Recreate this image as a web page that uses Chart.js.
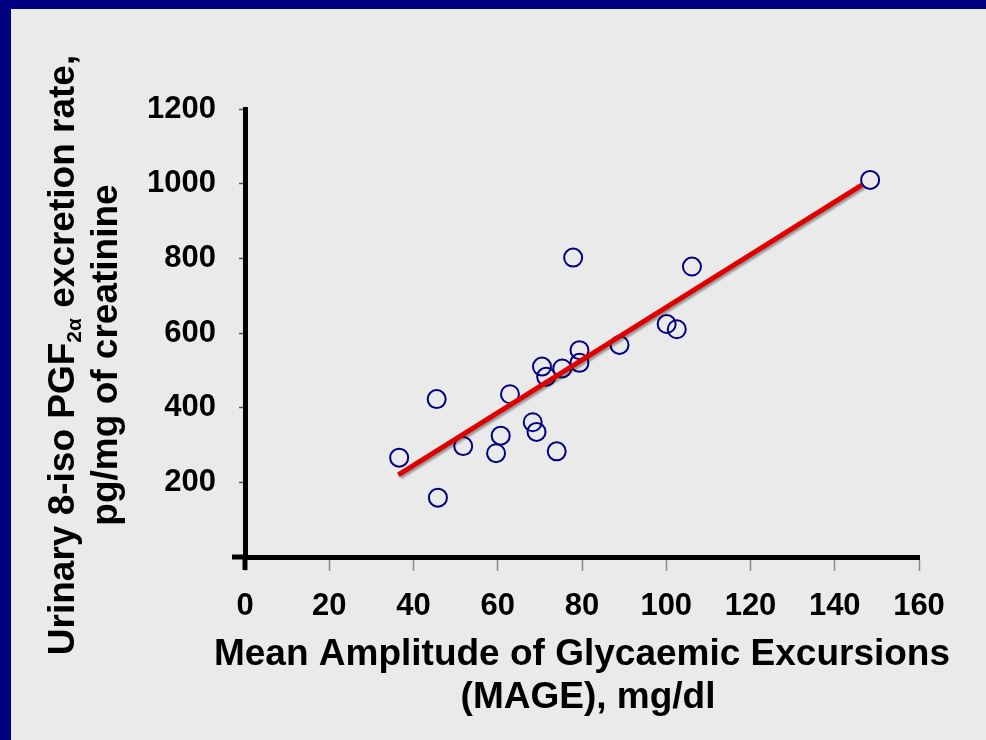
<!DOCTYPE html>
<html>
<head>
<meta charset="utf-8">
<script src="https://cdn.jsdelivr.net/npm/chart.js@4/dist/chart.umd.min.js"></script>
<style>
  html, body { margin: 0; padding: 0; background: #000080; }
  canvas { display: block; }
</style>
</head>
<body>
<canvas id="mageChart" width="986" height="740"></canvas>
<script>
// MAGE (mg/dl) vs urinary 8-iso PGF2α (pg/mg creatinine)
var mageX = [36.6, 45.5, 45.8, 51.8, 59.6, 60.7, 62.9, 68.3, 69.2, 70.5, 71.5,
             74.0, 75.3, 77.9, 79.4, 79.4, 88.9, 100.1, 102.5, 106.1, 148.4];
var isoY  = [266, 423, 159, 297, 278, 325, 436, 361, 335, 510, 483,
             283, 505, 802, 554, 520, 568, 624, 610, 778, 1010];

// regression line end points
var trendX = [36.4, 146.4];
var trendY = [220, 996];

var xTicks = [0, 20, 40, 60, 80, 100, 120, 140, 160];
var yTicks = [0, 200, 400, 600, 800, 1000, 1200];

var yTitleLine1 = ['Urinary 8-iso PGF', '2\u03b1', ' excretion rate,'];
var yTitleLine2 = 'pg/mg of creatinine';
var xTitleLines = ['Mean Amplitude of Glycaemic Excursions', '(MAGE), mg/dl'];

var FONT = '"Liberation Sans", Arial, sans-serif';

// --- background frame, axis titles and the axis cross ---
var framePlugin = {
  id: 'frame',
  beforeDraw: function (chart) {
    var c = chart.ctx;
    c.save();
    c.fillStyle = '#000080';
    c.fillRect(0, 0, chart.width, chart.height);
    c.fillStyle = '#eaeaea';
    c.fillRect(11, 9, chart.width - 11, chart.height - 9);
    c.restore();
  },
  afterDraw: function (chart) {
    var c = chart.ctx;
    var area = chart.chartArea;
    c.save();

    // axis cross at the origin
    c.strokeStyle = '#000';
    c.lineWidth = 5;
    c.beginPath();
    c.moveTo(area.left - 13, area.bottom);
    c.lineTo(area.left, area.bottom);
    c.moveTo(area.left, area.bottom);
    c.lineTo(area.left, area.bottom + 13);
    c.stroke();

    var big = 'bold 37px ' + FONT;
    var small = 'bold 21px ' + FONT;
    c.fillStyle = '#000';
    c.textBaseline = 'alphabetic';

    // x title, two centred lines
    c.font = big;
    c.textAlign = 'center';
    var cx = (area.left + area.right) / 2;
    c.fillText(xTitleLines[0], cx, 665);
    c.fillText(xTitleLines[1], cx + 6, 708);
    c.textAlign = 'left';

    // rotated y title, two lines, centred on the panel
    var midY = 355;
    c.rotate(-Math.PI / 2);
    c.font = big;
    var w0 = c.measureText(yTitleLine1[0]).width;
    var w2 = c.measureText(yTitleLine1[2]).width;
    c.font = small;
    var w1 = c.measureText(yTitleLine1[1]).width;
    var x = -(midY + (w0 + w1 + w2) / 2);
    c.font = big;
    c.fillText(yTitleLine1[0], x, 74);
    c.font = small;
    c.fillText(yTitleLine1[1], x + w0, 81);
    c.font = big;
    c.fillText(yTitleLine1[2], x + w0 + w1, 74);

    var wl2 = c.measureText(yTitleLine2).width;
    c.fillText(yTitleLine2, -(midY + wl2 / 2), 117);
    c.restore();
  }
};

// soft shadow under the red regression line
var lineShadow = {
  id: 'lineShadow',
  beforeDatasetDraw: function (chart, args) {
    if (args.index !== 1) return;
    var c = chart.ctx;
    c.save();
    c.shadowColor = 'rgba(0, 0, 0, 0.35)';
    c.shadowOffsetX = 2;
    c.shadowOffsetY = 2;
    c.shadowBlur = 2;
  },
  afterDatasetDraw: function (chart, args) {
    if (args.index !== 1) return;
    chart.ctx.restore();
  }
};

var points = mageX.map(function (v, i) { return { x: v, y: isoY[i] }; });
var trend = trendX.map(function (v, i) { return { x: v, y: trendY[i] }; });

new Chart(document.getElementById('mageChart'), {
  type: 'scatter',
  data: {
    datasets: [{
      label: 'Patients',
      data: points,
      pointStyle: 'circle',
      pointRadius: 9,
      pointHoverRadius: 9,
      borderColor: '#000080',
      borderWidth: 2,
      backgroundColor: 'rgba(0, 0, 0, 0)',
      order: 2
    }, {
      label: 'Regression',
      data: trend,
      showLine: true,
      pointRadius: 0,
      borderColor: '#e00000',
      borderWidth: 5,
      fill: false,
      order: 1
    }]
  },
  options: {
    responsive: false,
    animation: false,
    layout: { padding: { top: 109, right: 67, left: 0, bottom: 0 } },
    plugins: {
      legend: { display: false },
      tooltip: { enabled: false }
    },
    scales: {
      x: {
        type: 'linear',
        min: xTicks[0],
        max: xTicks[xTicks.length - 1],
        afterBuildTicks: function (s) {
          s.ticks = xTicks.map(function (v) { return { value: v }; });
        },
        afterFit: function (s) { s.height = 183; },
        border: { display: true, color: '#000', width: 5 },
        grid: {
          drawOnChartArea: false,
          drawTicks: true,
          tickLength: 14,
          tickColor: '#8a8a8a',
          tickWidth: 1.5
        },
        ticks: {
          padding: 17,
          color: '#000',
          font: { family: FONT, size: 31, weight: 'bold' }
        },
        title: { display: false }
      },
      y: {
        type: 'linear',
        min: yTicks[0],
        max: yTicks[yTicks.length - 1],
        afterBuildTicks: function (s) {
          s.ticks = yTicks.map(function (v) { return { value: v }; });
        },
        afterFit: function (s) { s.width = 245; },
        border: { display: true, color: '#000', width: 5 },
        grid: {
          drawOnChartArea: false,
          drawTicks: true,
          tickLength: 6,
          tickColor: '#555',
          tickWidth: 1.5
        },
        ticks: {
          padding: 23,
          color: '#000',
          font: { family: FONT, size: 31, weight: 'bold' },
          callback: function (v) { return v === 0 ? '' : String(v); }
        }
      }
    }
  },
  plugins: [framePlugin, lineShadow]
});
</script>
</body>
</html>
